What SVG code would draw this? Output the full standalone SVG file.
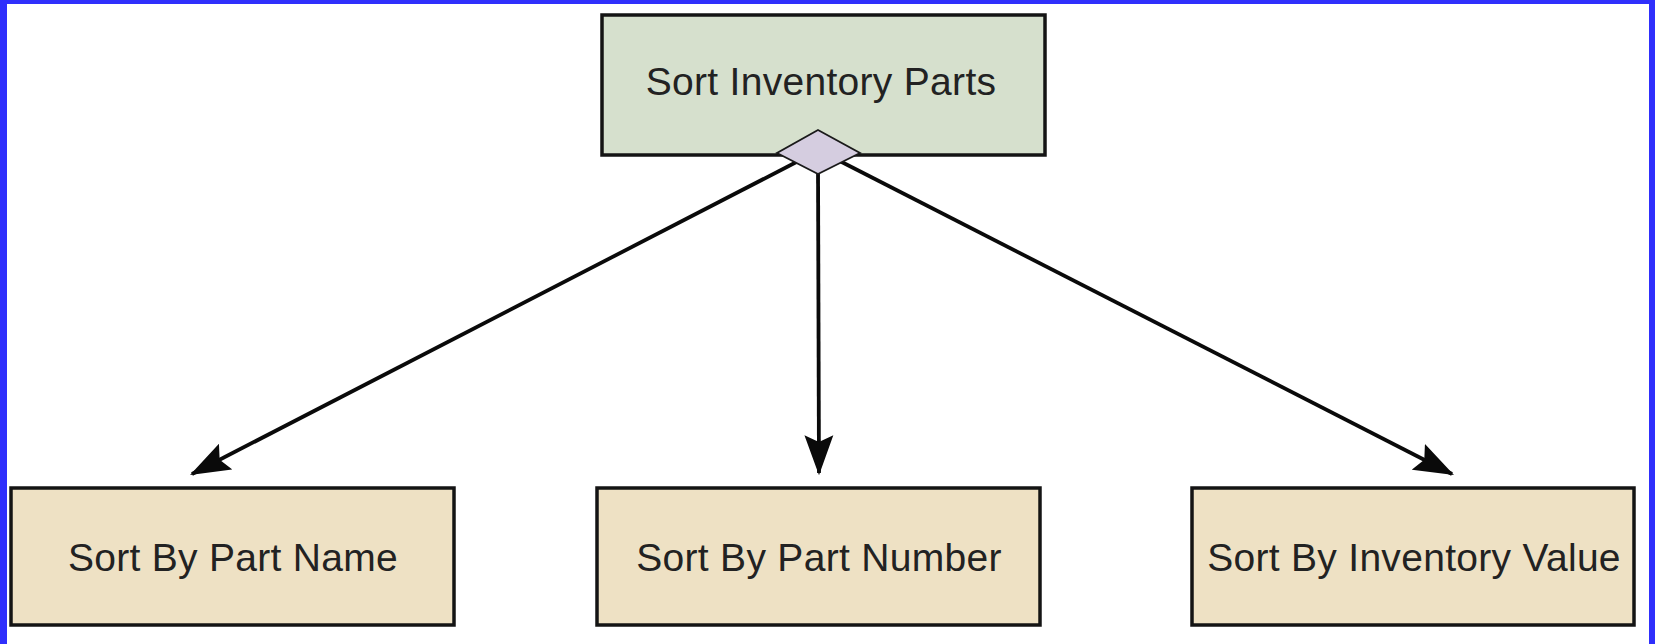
<svg xmlns="http://www.w3.org/2000/svg" width="1655" height="644" viewBox="0 0 1655 644">
<style>
.box{stroke:#141414;stroke-width:3.5}
.top{fill:#d6e0cd}
.leaf{fill:#eee1c4}
.lbl{font-family:"Liberation Sans",Arial,sans-serif;font-size:39px;letter-spacing:0.3px;fill:#222;text-anchor:middle}
.conn{stroke:#0a0a0a;stroke-width:3.8;fill:none}
</style>
<defs>
<marker id="arr" markerUnits="userSpaceOnUse" markerWidth="40" markerHeight="30" viewBox="0 0 36 26" refX="34" refY="13" orient="auto">
<path d="M0,0 L36,13 L0,26 L6,13 Z" fill="#0a0a0a"/>
</marker>
</defs>
<rect x="0" y="0" width="1655" height="644" fill="#ffffff"/>
<rect x="0" y="0" width="1655" height="4" fill="#2f2ffc"/>
<rect x="0" y="0" width="7" height="644" fill="#2f2ffc"/>
<rect x="1649" y="0" width="6" height="644" fill="#2f2ffc"/>
<g id="connectors">
<line class="conn" x1="810" y1="155" x2="192" y2="474" marker-end="url(#arr)"/>
<line class="conn" x1="818" y1="165" x2="819" y2="473" marker-end="url(#arr)"/>
<line class="conn" x1="828" y1="155" x2="1452" y2="474" marker-end="url(#arr)"/>
</g>
<g id="node-root">
<rect class="box top" x="602" y="15" width="443" height="140"/>
<text class="lbl" x="821" y="95">Sort Inventory Parts</text>
</g>
<g id="node-decomp">
<polygon points="818,130 860,153 818,174 777,153" fill="#d5cde0" stroke="#1a1a1a" stroke-width="1.8"/>
</g>
<g id="node-name">
<rect class="box leaf" x="11" y="488" width="443" height="137"/>
<text class="lbl" x="233" y="571">Sort By Part Name</text>
</g>
<g id="node-number">
<rect class="box leaf" x="597" y="488" width="443" height="137"/>
<text class="lbl" x="819" y="571">Sort By Part Number</text>
</g>
<g id="node-value">
<rect class="box leaf" x="1192" y="488" width="442" height="137"/>
<text class="lbl" x="1414" y="571">Sort By Inventory Value</text>
</g>
</svg>
